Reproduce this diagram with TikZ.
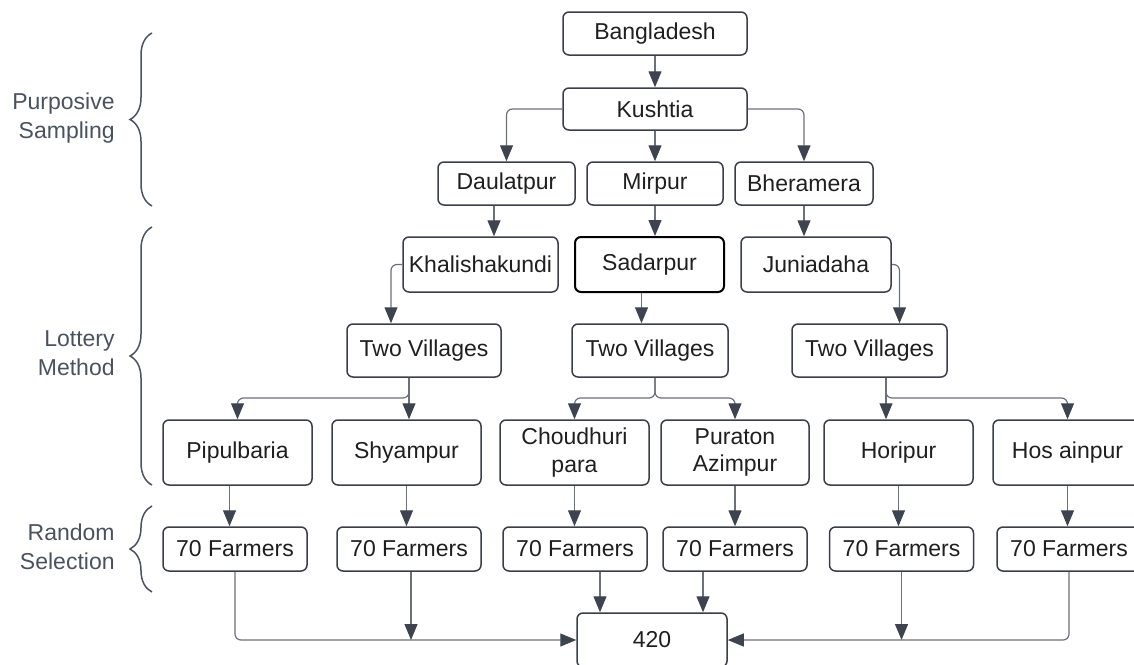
\documentclass[tikz,border=0pt]{standalone}
\usepackage{xcolor}
\usepackage{fontspec}
\setmainfont{Liberation Sans}
\usepackage{tikz}
\usetikzlibrary{calc}
\usetikzlibrary{arrows.meta}
\usetikzlibrary{shapes,positioning,decorations.pathreplacing}
\definecolor{boxline}{HTML}{3A3F47}
\definecolor{conn}{HTML}{6B7079}
\definecolor{tipc}{HTML}{3D4450}
\definecolor{lblc}{HTML}{4A5260}
\definecolor{txt}{HTML}{1F1F1F}
\begin{document}
\begin{tikzpicture}[x=0.5pt,y=-0.5pt,
	box/.style={draw=boxline,line width=0.75pt,rounded corners=3pt,align=center,text=txt,
		font=\fontsize{11.5}{13.8}\selectfont,inner sep=2pt},
	arr/.style={draw=conn,line width=0.6pt,rounded corners=3pt,
		-{Triangle[length=8pt,width=6.5pt,color=tipc]}},
	lbl/.style={anchor=east,align=right,text=lblc,inner sep=0pt,font=\fontsize{11.5}{14.5}\selectfont},
	brc/.style={draw=lblc,line width=0.75pt,decorate,decoration={brace,amplitude=11pt}}]
		\useasboundingbox (0,0) rectangle (1134,664);
		% top levels
		\node[box,minimum width=92pt,minimum height=21.5pt] (bd) at (655,33.5) {Bangladesh};
		\node[box,minimum width=92pt,minimum height=21pt] (kushtia) at (655,109) {Kushtia};
		\node[box,minimum width=68.5pt,minimum height=21.5pt] (daulat) at (506.5,183.5) {Daulatpur};
		\node[box,minimum width=68pt,minimum height=21.5pt] (mirpur) at (655,183.5) {Mirpur};
		\node[box,minimum width=69pt,minimum height=21.5pt] (bher) at (804,183.5) {Bheramera};
		\node[box,minimum width=77.5pt,minimum height=27.5pt] (khal) at (480.5,264.5) {Khalishakundi};
		\node[box,draw=black,line width=1pt,minimum width=74.5pt,minimum height=27.5pt] (sadar) at (649.5,264.5) {Sadarpur};
		\node[box,minimum width=75pt,minimum height=27.5pt] (jun) at (816,264.5) {Juniadaha};
		\node[box,minimum width=77pt,minimum height=26.5pt] (tvl) at (424,350.5) {Two Villages};
		\node[box,minimum width=78pt,minimum height=26.5pt] (tvm) at (650,350.5) {Two Villages};
		\node[box,minimum width=77.5pt,minimum height=26.5pt] (tvr) at (869.5,350.5) {Two Villages};
		% villages
		\node[box,minimum width=74.5pt,minimum height=32.5pt] (pipul) at (237.5,452.5) {Pipulbaria};
		\node[box,minimum width=74.5pt,minimum height=32.5pt] (shyam) at (406.5,452.5) {Shyampur};
		\node[box,minimum width=74.5pt,minimum height=32.5pt] (chou) at (574.5,452.5) {Choudhuri\\para};
		\node[box,minimum width=74pt,minimum height=32.5pt] (pur) at (735,452.5) {Puraton\\Azimpur};
		\node[box,minimum width=74.5pt,minimum height=32.5pt] (hori) at (898.5,452.5) {Horipur};
		\node[box,minimum width=74.5pt,minimum height=32.5pt] (hos) at (1067.5,452.5) {Hos ainpur};
		% farmers
		\node[box,minimum width=72pt,minimum height=22pt] (fa) at (235,549) {70 Farmers};
		\node[box,minimum width=72pt,minimum height=22pt] (fb) at (409,549) {70 Farmers};
		\node[box,minimum width=72pt,minimum height=22pt] (fc) at (575,549) {70 Farmers};
		\node[box,minimum width=72pt,minimum height=22pt] (fd) at (735,549) {70 Farmers};
		\node[box,minimum width=72pt,minimum height=22pt] (fe) at (901.5,549) {70 Farmers};
		\node[box,minimum width=72pt,minimum height=22pt] (ff) at (1069,549) {70 Farmers};
		\node[box,minimum width=75pt,minimum height=27pt] (total) at (652,640) {420};
		% branch points
		\coordinate (jl) at (409,398);
		\coordinate (jm) at (655,398);
		\coordinate (jr) at (886,398);
		% connectors
		\draw[arr] (bd.south) -- (kushtia.north);
		\draw[arr] (kushtia.west) -| (daulat.north);
		\draw[arr] (kushtia.south) -- (mirpur.north);
		\draw[arr] (kushtia.east) -| (bher.north);
		\draw[arr] ([xshift=-6.25pt]daulat.south) -- ([xshift=-6.25pt]daulat.south |- khal.north);
		\draw[arr] (mirpur.south) -- (mirpur.south |- sadar.north);
		\draw[arr] (bher.south) -- (bher.south |- jun.north);
		\draw[arr] (khal.west) -| ([xshift=-16.5pt]tvl.north);
		\draw[arr] ([xshift=-4pt]sadar.south) -- ([xshift=-4pt]sadar.south |- tvm.north);
		\draw[arr] (jun.east) -| ([xshift=15pt]tvr.north);
		\draw[arr] (tvl.south -| jl) |- (pipul.north |- jl) -- (pipul.north);
		\draw[arr] (tvl.south -| jl) -- (shyam.north -| jl);
		\draw[arr] (tvm.south -| jm) |- (chou.north |- jm) -- (chou.north);
		\draw[arr] (tvm.south -| jm) |- (pur.north |- jm) -- (pur.north);
		\draw[arr] (tvr.south -| jr) -- (hori.north -| jr);
		\draw[arr] (tvr.south -| jr) |- (hos.north |- jr) -- (hos.north);
		\draw[arr] ([xshift=-4pt]pipul.south) -- ([xshift=-4pt]pipul.south |- fa.north);
		\draw[arr] (shyam.south) -- (shyam.south |- fb.north);
		\draw[arr] (chou.south) -- (chou.south |- fc.north);
		\draw[arr] (pur.south) -- (pur.south |- fd.north);
		\draw[arr] (hori.south) -- (hori.south |- fe.north);
		\draw[arr] (hos.south) -- (hos.south |- ff.north);
		\draw[arr] (fa.south) |- (total.west);
		\draw[arr] ([xshift=1pt]fb.south) -- ([xshift=1pt]fb.south |- total.west);
		\draw[arr] ([xshift=12.5pt]fc.south) -- ([xshift=12.5pt]fc.south |- total.north);
		\draw[arr] ([xshift=-16pt]fd.south) -- ([xshift=-16pt]fd.south |- total.north);
		\draw[arr] (fe.south) -- (fe.south |- total.east);
		\draw[arr] (ff.south) |- (total.east);
		% stages
		\node[lbl] (purp) at (115,118) {Purposive\\Sampling};
		\node[lbl] (lott) at (115,353) {Lottery\\Method};
		\node[lbl] (rand) at (115,547) {Random\\Selection};
		\draw[brc] (152,206) -- (152,33);
		\draw[brc] (152,485) -- (152,227);
		\draw[brc] (152,592) -- (152,506);
\end{tikzpicture}
\end{document}
